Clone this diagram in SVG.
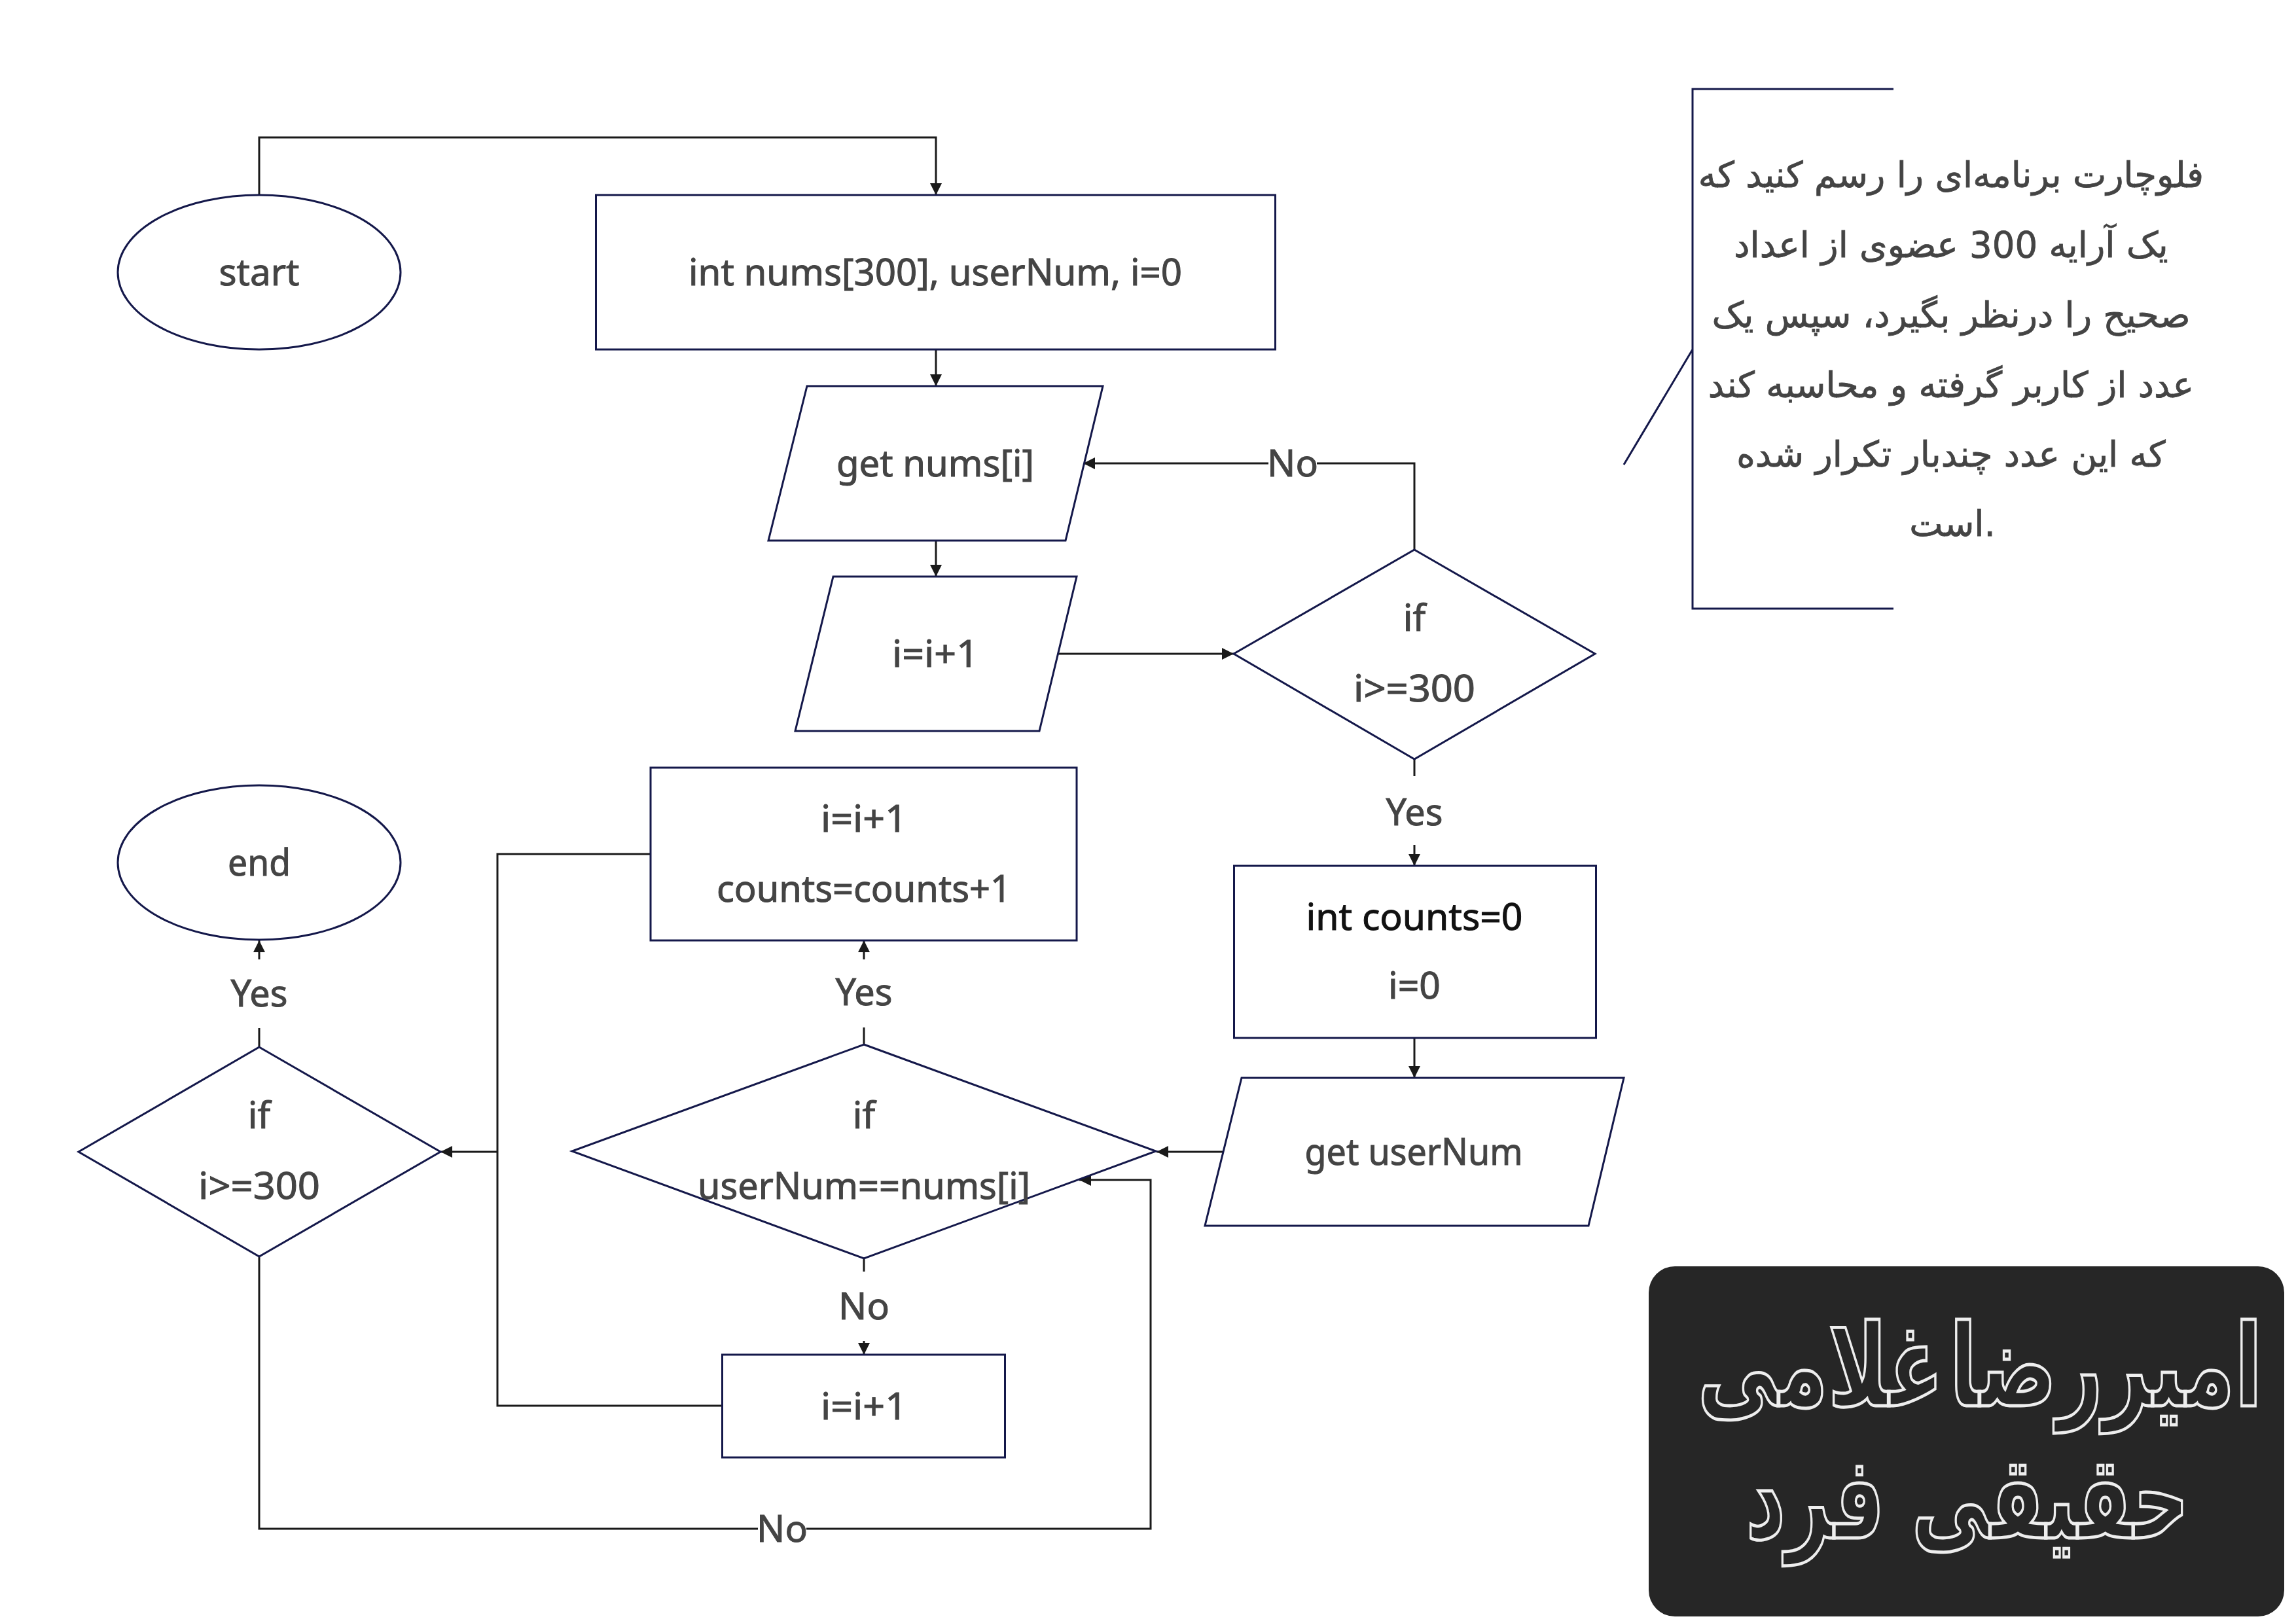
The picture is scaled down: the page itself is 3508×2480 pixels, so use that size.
<svg xmlns="http://www.w3.org/2000/svg" width="3508" height="2480" viewBox="0 0 3508 2480">
<style>
.n{fill:#fff;stroke:#14184a;stroke-width:3}
.c{fill:none;stroke:#1a1a1a;stroke-width:3;stroke-linejoin:miter}
.t{font-family:"Noto Sans","Open Sans",sans-serif;font-size:57px;fill:#444;stroke:#444;stroke-width:1;text-anchor:middle}
.fa{font-family:"DejaVu Sans",sans-serif;font-size:54.5px;fill:#444;stroke:#444;stroke-width:.8;text-anchor:middle}
.b{font-family:"DejaVu Sans",sans-serif;font-size:128px;font-weight:700;fill:#262626;stroke:#eee;stroke-width:3.500;text-anchor:middle}
</style>
<defs><marker id="a" markerUnits="userSpaceOnUse" markerWidth="20" markerHeight="20" refX="18" refY="10" orient="auto"><path d="M0 1L18 10L0 19Z" fill="#1a1a1a"/></marker></defs>
<rect width="3508" height="2480" fill="#fff"/>
<g id="connectors">
<path class="c" d="M396 298V210H1430V298" marker-end="url(#a)"/>
<path class="c" d="M1430 534V590" marker-end="url(#a)"/>
<path class="c" d="M1430 826V881" marker-end="url(#a)"/>
<path class="c" d="M1615 999H1885" marker-end="url(#a)"/>
<path class="c" d="M2161 840V708H2012M1938 708H1655" marker-end="url(#a)"/>
<path class="c" d="M2161 1160V1186M2161 1291V1323" marker-end="url(#a)"/>
<path class="c" d="M2161 1586V1647" marker-end="url(#a)"/>
<path class="c" d="M1868 1760H1767" marker-end="url(#a)"/>
<path class="c" d="M1320 1596V1570M1320 1466V1437" marker-end="url(#a)"/>
<path class="c" d="M1320 1923V1943M1320 2049V2070" marker-end="url(#a)"/>
<path class="c" d="M994 1305H760V2148H1103"/>
<path class="c" d="M760 1760H673" marker-end="url(#a)"/>
<path class="c" d="M396 1600V1571M396 1466V1437" marker-end="url(#a)"/>
<path class="c" d="M396 1920V2336H1158M1232 2336H1758V1803H1649" marker-end="url(#a)"/>
<path d="M2893 136H2586V930H2893M2586 534L2481 710" fill="none" stroke="#14184a" stroke-width="3"/>
</g>
<g id="start"><ellipse class="n" cx="396" cy="416" rx="216" ry="118"/><text class="t" x="396" y="436" textLength="123" lengthAdjust="spacingAndGlyphs">start</text></g>
<g id="init"><rect class="n" x="910.500" y="298" width="1038" height="236"/><text class="t" x="1429" y="436" textLength="754" lengthAdjust="spacingAndGlyphs">int nums[300], userNum, i=0</text></g>
<g id="getnums"><path class="n" d="M1233 590H1685L1628 826H1174Z"/><text class="t" x="1429" y="728" textLength="302" lengthAdjust="spacingAndGlyphs">get nums[i]</text></g>
<g id="inc1"><path class="n" d="M1273 881H1645L1588 1117H1215Z"/><text class="t" x="1429" y="1019" textLength="132" lengthAdjust="spacingAndGlyphs">i=i+1</text></g>
<g id="if1"><path class="n" d="M2161 840L2437 999L2161 1160L1885 999Z"/><text class="t" x="2161" y="964">if</text><text class="t" x="2161" y="1072" textLength="186" lengthAdjust="spacingAndGlyphs">i&gt;=300</text></g>
<g id="counts"><rect class="n" x="1885.500" y="1323" width="553" height="263"/><text class="t" x="2161" y="1421" style="fill:#111;stroke:#111" textLength="331" lengthAdjust="spacingAndGlyphs">int counts=0</text><text class="t" x="2161" y="1526">i=0</text></g>
<g id="getuser"><path class="n" d="M1897 1647H2481L2427 1873H1841Z"/><text class="t" x="2160" y="1780" textLength="333" lengthAdjust="spacingAndGlyphs">get userNum</text></g>
<g id="if2"><path class="n" d="M1320 1596L1766 1759L1320 1923L874 1759Z"/><text class="t" x="1320" y="1724">if</text><text class="t" x="1320" y="1832" textLength="508" lengthAdjust="spacingAndGlyphs">userNum==nums[i]</text></g>
<g id="inc2"><rect class="n" x="994" y="1173" width="651" height="264"/><text class="t" x="1320" y="1271" textLength="132" lengthAdjust="spacingAndGlyphs">i=i+1</text><text class="t" x="1320" y="1378" textLength="450" lengthAdjust="spacingAndGlyphs">counts=counts+1</text></g>
<g id="inc3"><rect class="n" x="1103.500" y="2070" width="432" height="157"/><text class="t" x="1320" y="2169" textLength="132" lengthAdjust="spacingAndGlyphs">i=i+1</text></g>
<g id="if3"><path class="n" d="M396 1600L673 1760L396 1920L120 1760Z"/><text class="t" x="396" y="1724">if</text><text class="t" x="396" y="1832" textLength="186" lengthAdjust="spacingAndGlyphs">i&gt;=300</text></g>
<g id="end"><ellipse class="n" cx="396" cy="1318" rx="216" ry="118"/><text class="t" x="396" y="1338" textLength="96" lengthAdjust="spacingAndGlyphs">end</text></g>
<g id="labels">
<text class="t" x="1975" y="728">No</text>
<text class="t" x="2161" y="1261" textLength="87" lengthAdjust="spacingAndGlyphs">Yes</text>
<text class="t" x="1320" y="1536" textLength="87" lengthAdjust="spacingAndGlyphs">Yes</text>
<text class="t" x="396" y="1538" textLength="87" lengthAdjust="spacingAndGlyphs">Yes</text>
<text class="t" x="1320" y="2016">No</text>
<text class="t" x="1195" y="2356">No</text>
</g>
<g id="note">
<text class="fa" x="2981" y="286">فلوچارت برنامه‌ای را رسم کنید که</text>
<text class="fa" x="2981" y="393">یک آرایه 300 عضوی از اعداد</text>
<text class="fa" x="2981" y="500">صحیح را درنظر بگیرد، سپس یک</text>
<text class="fa" x="2981" y="607">عدد از کاربر گرفته و محاسبه کند</text>
<text class="fa" x="2981" y="713">که این عدد چندبار تکرار شده</text>
<text class="fa" x="2983" y="819">است.</text>
</g>
<g id="badge">
<rect x="2519" y="1935" width="971" height="535" rx="40" fill="#262626"/>
<text class="b" transform="translate(3025 2148) scale(.955 1.36)" style="word-spacing:-35px">امیررضا غلامی</text>
<text class="b" transform="translate(3006 2350) scale(.925 1.36)">حقیقی فرد</text>
</g>
</svg>
